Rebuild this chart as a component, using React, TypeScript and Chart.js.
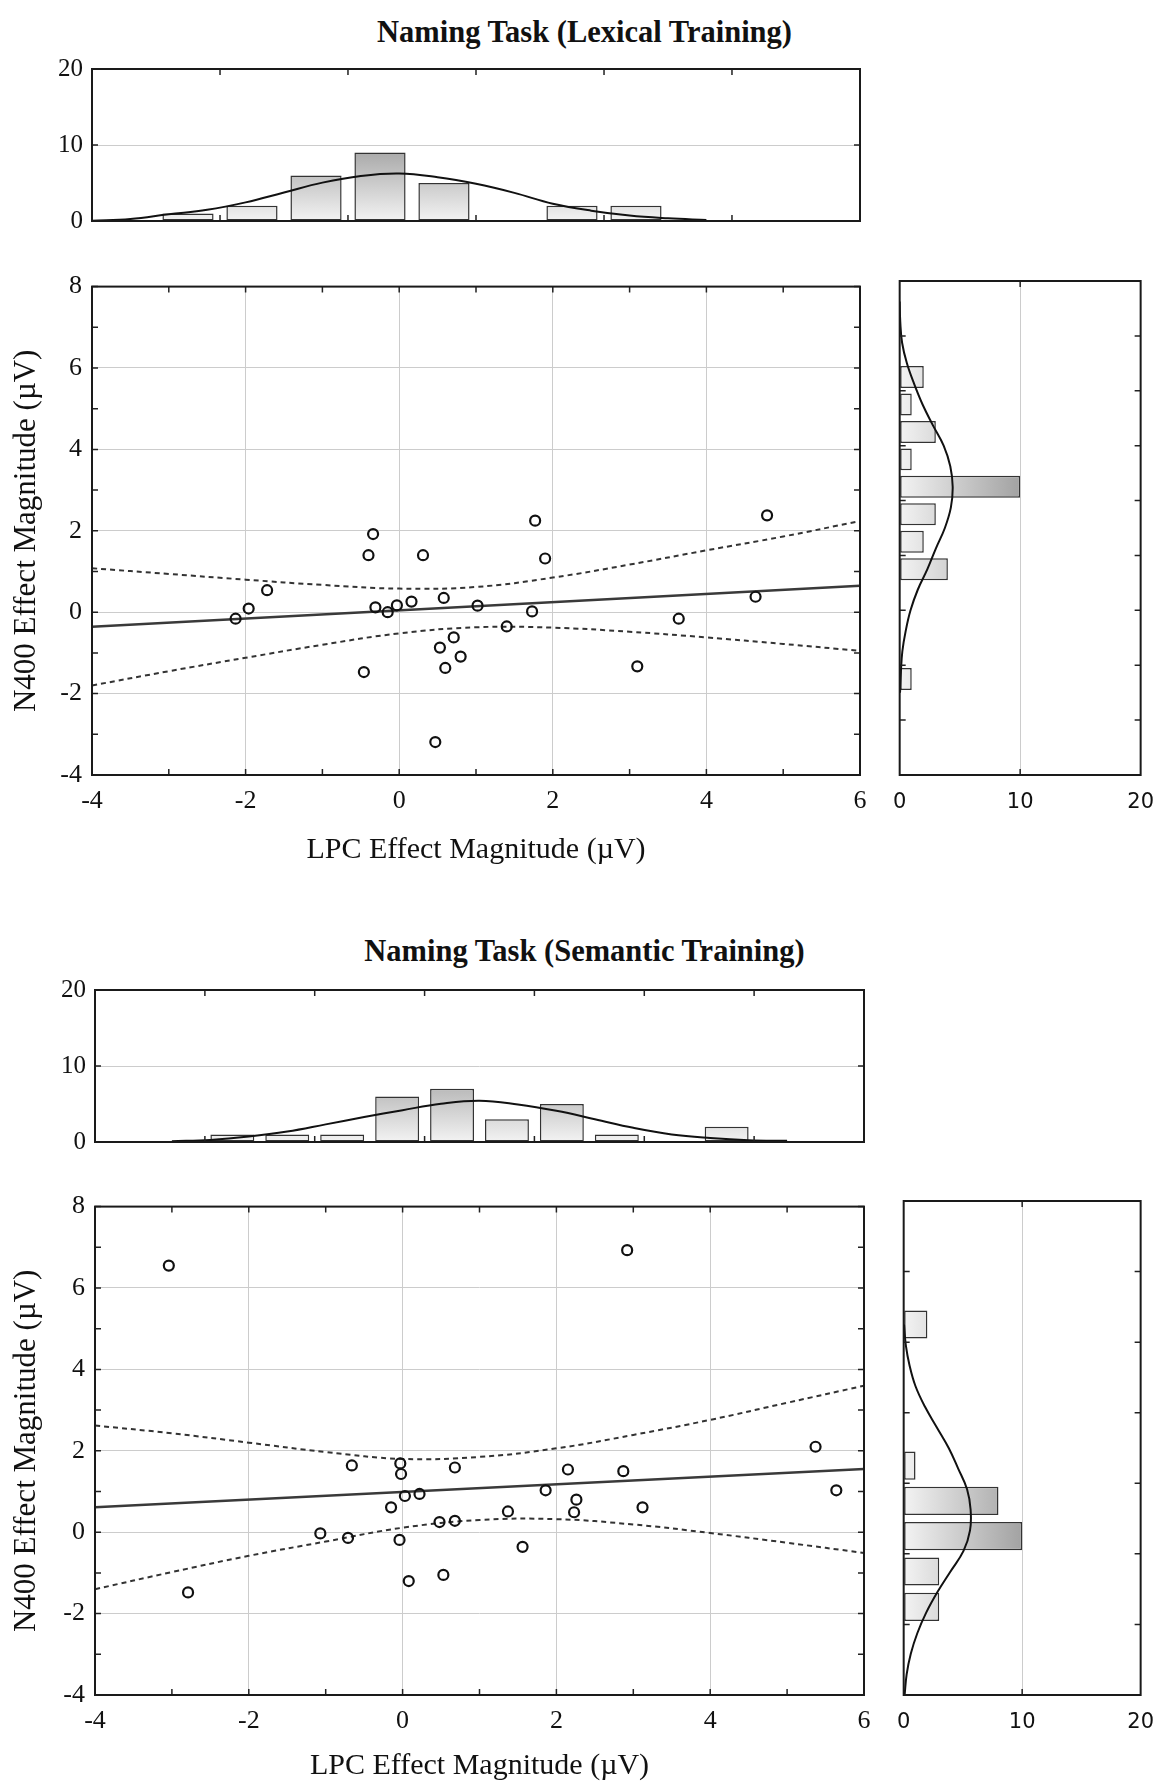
import React, { useEffect, useRef } from "react";
import { Chart, registerables } from "chart.js";

Chart.register(...registerables);

// ================= Panel 1: Naming Task (Lexical Training) =================
const lexTitle = "Naming Task (Lexical Training)";
const lexLPC = [-2.13, -1.96, -1.72, -0.34, -0.4, -0.46, -0.31, -0.15, -0.03, 0.16, 0.31, 0.58, 0.53, 0.71, 0.6, 0.8, 0.47, 1.02, 1.4, 1.73, 1.77, 1.9, 3.1, 3.64, 4.64, 4.79];
const lexN400 = [-0.16, 0.09, 0.54, 1.92, 1.4, -1.47, 0.12, 0.0, 0.17, 0.26, 1.4, 0.35, -0.87, -0.62, -1.37, -1.09, -3.19, 0.16, -0.35, 0.02, 2.25, 1.32, -1.33, -0.16, 0.38, 2.38];
const fitX = [-4, 6];
const lexFitY = [-0.36, 0.65];
const bandX = [-4, -3, -2, -1, 0, 1, 2, 3, 4, 5, 6];
const lexUpper = [1.08, 0.94, 0.8, 0.67, 0.58, 0.62, 0.85, 1.17, 1.52, 1.86, 2.24];
const lexLower = [-1.8, -1.45, -1.12, -0.8, -0.52, -0.37, -0.38, -0.48, -0.62, -0.78, -0.95];
// top histogram (LPC)
const lexLpcBins = [-2.75, -1.917, -1.083, -0.25, 0.583, 2.25, 3.083];
const lexLpcCounts = [1, 2, 6, 9, 5, 2, 2];
const lexLpcCurveX = [-4, -3.5, -3, -2.5, -2, -1.5, -1, -0.5, 0, 0.5, 1, 1.5, 2, 2.5, 3, 3.5, 4];
const lexLpcCurveY = [0.02, 0.25, 0.88, 1.47, 2.45, 3.75, 5.05, 5.93, 6.25, 5.76, 4.89, 3.7, 2.28, 1.36, 0.72, 0.36, 0.13];
const lexLpcTickMarks = [-2.333, -0.667, 1, 2.667, 4.333];
// right histogram (N400)
const lexN400Bins = [5.667, 5, 4.333, 3.667, 3, 2.333, 1.667, 1, -1.667];
const lexN400Counts = [2, 1, 3, 1, 10, 3, 2, 4, 1];
const lexN400CurvePos = [7.5, 7, 6.5, 6, 5.5, 5, 4.5, 4, 3.5, 3, 2.5, 2, 1.5, 1, 0.5, 0, -0.5, -1, -1.5, -2];
const lexN400CurveVal = [0, 0.05, 0.2, 0.6, 1.2, 1.9, 2.75, 3.65, 4.2, 4.4, 4.25, 3.75, 3.0, 2.3, 1.5, 0.9, 0.5, 0.22, 0.1, 0.03];
const lexN400TickMarks = [6.667, 5.333, 4, 2.667, 1.333, 0, -1.333, -2.667];

// ================= Panel 2: Naming Task (Semantic Training) =================
const semTitle = "Naming Task (Semantic Training)";
const semLPC = [-3.04, -2.79, -1.07, -0.71, -0.66, -0.15, -0.03, -0.02, -0.04, 0.03, 0.22, 0.08, 0.48, 0.53, 0.68, 0.68, 1.37, 1.56, 1.86, 2.15, 2.23, 2.26, 2.87, 2.92, 3.12, 5.37, 5.64];
const semN400 = [6.55, -1.48, -0.03, -0.14, 1.64, 0.61, 1.69, 1.43, -0.19, 0.89, 0.94, -1.2, 0.25, -1.05, 0.28, 1.59, 0.51, -0.36, 1.03, 1.54, 0.49, 0.8, 1.5, 6.93, 0.61, 2.1, 1.03];
const semFitY = [0.61, 1.55];
const semUpper = [2.62, 2.43, 2.2, 1.97, 1.8, 1.85, 2.06, 2.39, 2.76, 3.18, 3.6];
const semLower = [-1.4, -0.98, -0.58, -0.23, 0.11, 0.3, 0.32, 0.19, -0.02, -0.26, -0.51];
const semLpcBins = [-2.214, -1.5, -0.786, -0.071, 0.643, 1.357, 2.071, 2.786, 4.214];
const semLpcCounts = [1, 1, 1, 6, 7, 3, 5, 1, 2];
const semLpcCurveX = [-3, -2.5, -2, -1.5, -1, -0.5, 0, 0.5, 1, 1.5, 2, 2.5, 3, 3.5, 4, 4.5, 5];
const semLpcCurveY = [0.1, 0.27, 0.71, 1.37, 2.32, 3.29, 4.19, 5.03, 5.43, 4.93, 4.1, 3.0, 1.87, 1.0, 0.53, 0.24, 0.15];
const semLpcTickMarks = [-2.571, -1.143, 0.286, 1.714, 3.143, 4.571];
const semN400Bins = [5, 1.571, 0.714, -0.143, -1, -1.857];
const semN400Counts = [2, 1, 8, 10, 3, 3];
const semN400CurvePos = [5, 4.5, 4, 3.5, 3, 2.5, 2, 1.5, 1, 0.5, 0, -0.5, -1, -1.5, -2, -2.5, -3, -3.5, -4];
const semN400CurveVal = [0.03, 0.18, 0.5, 1.0, 1.8, 2.8, 3.8, 4.6, 5.35, 5.65, 5.6, 5.05, 3.95, 2.85, 1.9, 1.15, 0.6, 0.25, 0.08];
const semN400TickMarks = [6.286, 4.571, 2.857, 1.143, -0.571, -2.286];

// shared axis text / ticks
const xTitle = "LPC Effect Magnitude (µV)";
const yTitle = "N400 Effect Magnitude (µV)";
const scatterMinorX = [-4, -3, -2, -1, 0, 1, 2, 3, 4, 5, 6];
const scatterMinorY = [-4, -3, -2, -1, 0, 1, 2, 3, 4, 5, 6, 7, 8];

const SERIF = "'Liberation Serif', 'Times New Roman', serif";
const SANS = "'DejaVu Sans', Verdana, sans-serif";
const INK = "#111111";
const GRID = "#cccccc";

const framePlugin: any = {
  id: "frame",
  afterDatasetsDraw(chart: any, _args: any, opts: any) {
    const { ctx, chartArea: a, scales } = chart;
    const len = 6;
    ctx.save();
    ctx.strokeStyle = "#222";
    ctx.lineWidth = 1.5;
    (opts.xTicks || []).forEach((v: number) => {
      const p = scales.x.getPixelForValue(v);
      ctx.beginPath();
      ctx.moveTo(p, a.top);
      ctx.lineTo(p, a.top + len);
      ctx.moveTo(p, a.bottom);
      ctx.lineTo(p, a.bottom - len);
      ctx.stroke();
    });
    (opts.yTicks || []).forEach((v: number) => {
      const p = scales.y.getPixelForValue(v);
      ctx.beginPath();
      ctx.moveTo(a.left, p);
      ctx.lineTo(a.left + len, p);
      ctx.moveTo(a.right, p);
      ctx.lineTo(a.right - len, p);
      ctx.stroke();
    });
    ctx.lineWidth = 2;
    ctx.strokeStyle = "#1a1a1a";
    ctx.strokeRect(a.left, a.top, a.right - a.left, a.bottom - a.top);
    ctx.restore();
  },
};

function gradientFill(horizontal: boolean) {
  return (c: any) => {
    const chart = c.chart;
    if (!chart.chartArea) return "#dddddd";
    const s = horizontal ? chart.scales.x : chart.scales.y;
    const p0 = s.getPixelForValue(0);
    const p1 = s.getPixelForValue(10);
    const g = horizontal
      ? chart.ctx.createLinearGradient(p0, 0, p1, 0)
      : chart.ctx.createLinearGradient(0, p0, 0, p1);
    g.addColorStop(0, "#f3f3f3");
    g.addColorStop(1, "#a2a2a2");
    return g;
  };
}

const baseOpts = {
  responsive: false,
  animation: false as const,
  devicePixelRatio: 1,
  events: [] as any[],
};

function topHistConfig(bins: number[], counts: number[], cx: number[], cy: number[], marks: number[], yW: number, pad: any) {
  return {
    type: "bar",
    data: {
      datasets: [
        {
          type: "line",
          data: cx.map((x, i) => ({ x, y: cy[i] })),
          borderColor: INK,
          borderWidth: 2,
          pointRadius: 0,
          tension: 0.4,
          order: 0,
        },
        {
          type: "bar",
          data: bins.map((x, i) => ({ x, y: counts[i] })),
          backgroundColor: gradientFill(false),
          borderColor: "#333",
          borderWidth: 1.5,
          borderSkipped: false,
          barPercentage: 0.8,
          categoryPercentage: 1,
          order: 1,
        },
      ],
    },
    options: {
      ...baseOpts,
      layout: { padding: pad },
      plugins: { legend: { display: false }, tooltip: { enabled: false }, frame: { xTicks: marks, yTicks: [10] } },
      scales: {
        x: { type: "linear", min: -4, max: 6, offset: false, display: false },
        y: {
          type: "linear",
          min: 0,
          max: 20,
          ticks: { stepSize: 10, color: INK, padding: 9, font: { family: SERIF, size: 25 } },
          grid: { color: (c: any) => (c.tick && c.tick.value === 10 ? GRID : "rgba(0,0,0,0)"), drawTicks: false },
          border: { display: false },
          afterFit: (s: any) => { s.width = yW; },
        },
      },
    },
    plugins: [framePlugin],
  };
}

function rightHistConfig(bins: number[], counts: number[], pos: number[], val: number[], marks: number[], xH: number, pad: any) {
  return {
    type: "bar",
    data: {
      datasets: [
        {
          type: "line",
          indexAxis: "y",
          data: pos.map((y, i) => ({ x: val[i], y })),
          borderColor: INK,
          borderWidth: 2,
          pointRadius: 0,
          tension: 0.4,
          order: 0,
        },
        {
          type: "bar",
          data: bins.map((y, i) => ({ x: counts[i], y })),
          backgroundColor: gradientFill(true),
          borderColor: "#333",
          borderWidth: 1.5,
          borderSkipped: false,
          barPercentage: 0.8,
          categoryPercentage: 1,
          order: 1,
        },
      ],
    },
    options: {
      ...baseOpts,
      indexAxis: "y",
      layout: { padding: pad },
      plugins: { legend: { display: false }, tooltip: { enabled: false }, frame: { xTicks: [10], yTicks: marks } },
      scales: {
        y: { type: "linear", min: -4, max: 8, offset: false, display: false },
        x: {
          type: "linear",
          min: 0,
          max: 20,
          ticks: { stepSize: 10, color: INK, padding: 15, font: { family: SANS, size: 21 } },
          grid: { color: (c: any) => (c.tick && c.tick.value === 10 ? GRID : "rgba(0,0,0,0)"), drawTicks: false },
          border: { display: false },
          afterFit: (s: any) => { s.height = xH; },
        },
      },
    },
    plugins: [framePlugin],
  };
}

function scatterConfig(xs: number[], ys: number[], fitY: number[], upper: number[], lower: number[], yW: number, xH: number, pad: any, xTitlePad: number) {
  return {
    type: "scatter",
    data: {
      datasets: [
        {
          data: xs.map((x, i) => ({ x, y: ys[i] })),
          pointRadius: 5,
          pointBorderWidth: 2.2,
          pointBorderColor: INK,
          pointBackgroundColor: "rgba(255,255,255,0)",
          showLine: false,
          order: 0,
        },
        {
          data: fitX.map((x, i) => ({ x, y: fitY[i] })),
          showLine: true,
          borderColor: "#3a3a3a",
          borderWidth: 2.5,
          pointRadius: 0,
          order: 1,
        },
        {
          data: bandX.map((x, i) => ({ x, y: upper[i] })),
          showLine: true,
          borderColor: "#333",
          borderWidth: 2,
          borderDash: [5, 4],
          pointRadius: 0,
          tension: 0.4,
          order: 2,
        },
        {
          data: bandX.map((x, i) => ({ x, y: lower[i] })),
          showLine: true,
          borderColor: "#333",
          borderWidth: 2,
          borderDash: [5, 4],
          pointRadius: 0,
          tension: 0.4,
          order: 2,
        },
      ],
    },
    options: {
      ...baseOpts,
      layout: { padding: pad },
      plugins: { legend: { display: false }, tooltip: { enabled: false }, frame: { xTicks: scatterMinorX, yTicks: scatterMinorY } },
      scales: {
        x: {
          type: "linear",
          min: -4,
          max: 6,
          ticks: { stepSize: 2, color: INK, padding: 11, font: { family: SERIF, size: 26 } },
          grid: { color: GRID, drawTicks: false },
          border: { display: false },
          title: { display: true, text: xTitle, color: INK, font: { family: SERIF, size: 30, lineHeight: 1 }, padding: { top: 0, bottom: xTitlePad } },
          afterFit: (s: any) => { s.height = xH; },
        },
        y: {
          type: "linear",
          min: -4,
          max: 8,
          ticks: { stepSize: 2, color: INK, padding: 10, font: { family: SERIF, size: 26 } },
          grid: { color: GRID, drawTicks: false },
          border: { display: false },
          title: { display: true, text: yTitle, color: INK, font: { family: SERIF, size: 31, lineHeight: 1 }, padding: { top: 11, bottom: 0 } },
          afterFit: (s: any) => { s.width = yW; },
        },
      },
    },
    plugins: [framePlugin],
  };
}

type Box = { left: number; top: number; width: number; height: number };

function ChartBox({ box, make }: { box: Box; make: () => any }) {
  const ref = useRef<HTMLCanvasElement>(null);
  useEffect(() => {
    const chart = new Chart(ref.current as HTMLCanvasElement, make());
    return () => chart.destroy();
  }, []);
  return (
    <canvas
      ref={ref}
      width={box.width}
      height={box.height}
      style={{ position: "absolute", left: box.left, top: box.top, width: box.width, height: box.height }}
    />
  );
}

function Title({ text, top }: { text: string; top: number }) {
  return (
    <div
      style={{
        position: "absolute",
        left: 0,
        width: 1169,
        top,
        textAlign: "center",
        fontFamily: SERIF,
        fontWeight: "bold",
        fontSize: 30.5,
        lineHeight: "36px",
        color: INK,
        whiteSpace: "nowrap",
      }}
    >
      {text}
    </div>
  );
}

export default function App() {
  return (
    <div style={{ position: "absolute", left: 0, top: 0, width: 1169, height: 1781, overflow: "hidden", background: "#fff" }}>
      <Title text={lexTitle} top={14} />
      <ChartBox
        box={{ left: 20, top: 45, width: 860, height: 200 }}
        make={() => topHistConfig(lexLpcBins, lexLpcCounts, lexLpcCurveX, lexLpcCurveY, lexLpcTickMarks, 72, { left: 0, top: 20, right: 20, bottom: 15 })}
      />
      <ChartBox
        box={{ left: 0, top: 261, width: 880, height: 609 }}
        make={() => scatterConfig(lexLPC, lexN400, lexFitY, lexUpper, lexLower, 92, 95, { left: 0, top: 20, right: 20, bottom: 0 }, 5)}
      />
      <ChartBox
        box={{ left: 878, top: 261, width: 291, height: 560 }}
        make={() => rightHistConfig(lexN400Bins, lexN400Counts, lexN400CurvePos, lexN400CurveVal, lexN400TickMarks, 46, { left: 15, top: 20, right: 21, bottom: 0 })}
      />

      <Title text={semTitle} top={933} />
      <ChartBox
        box={{ left: 20, top: 966, width: 864, height: 200 }}
        make={() => topHistConfig(semLpcBins, semLpcCounts, semLpcCurveX, semLpcCurveY, semLpcTickMarks, 75, { left: 0, top: 21, right: 20, bottom: 15 })}
      />
      <ChartBox
        box={{ left: 0, top: 1181, width: 884, height: 600 }}
        make={() => scatterConfig(semLPC, semN400, semFitY, semUpper, semLower, 95, 86, { left: 0, top: 20, right: 20, bottom: 0 }, 0)}
      />
      <ChartBox
        box={{ left: 882, top: 1181, width: 287, height: 560 }}
        make={() => rightHistConfig(semN400Bins, semN400Counts, semN400CurvePos, semN400CurveVal, semN400TickMarks, 46, { left: 16, top: 20, right: 16, bottom: 0 })}
      />
    </div>
  );
}
